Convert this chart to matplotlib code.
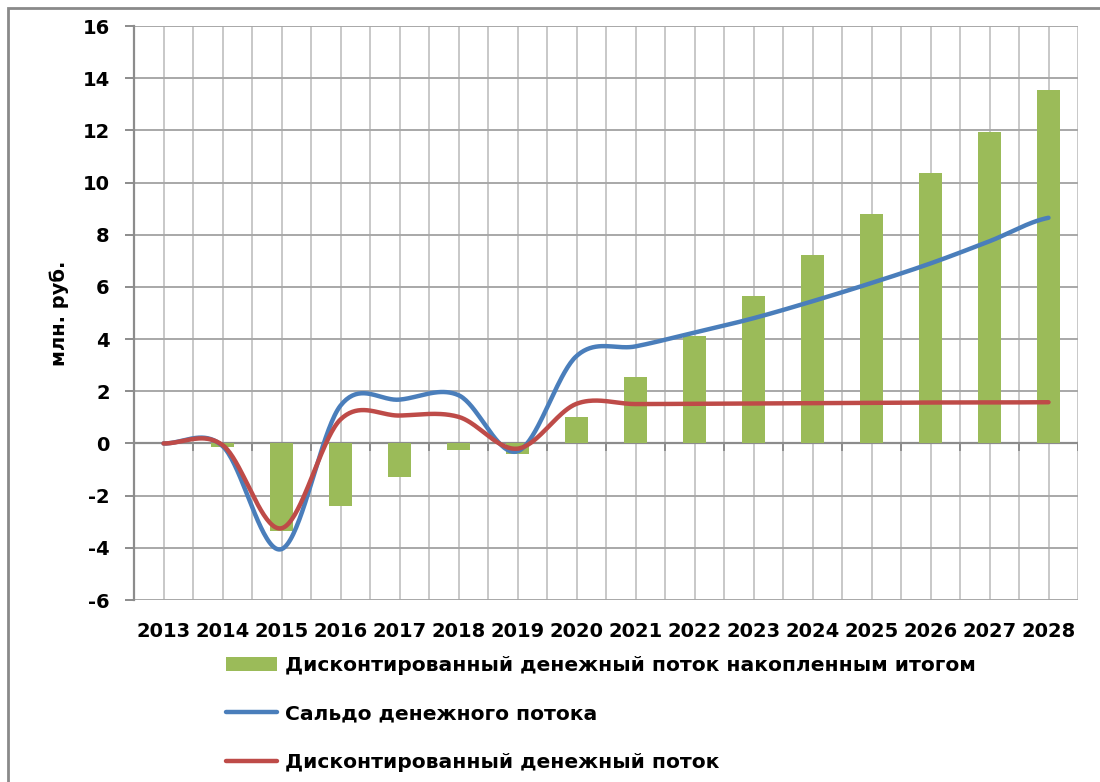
import numpy as np
import matplotlib
matplotlib.use("Agg")
import matplotlib.pyplot as plt
from matplotlib.patches import Rectangle, Patch
from matplotlib.lines import Line2D

plt.rcParams['font.family'] = ['DejaVu Sans']

years = ['2013', '2014', '2015', '2016', '2017', '2018', '2019', '2020',
         '2021', '2022', '2023', '2024', '2025', '2026', '2027', '2028']
cumulative_dcf = [0.0, -0.12, -3.37, -2.39, -1.30, -0.27, -0.42, 1.03,
                  2.56, 4.10, 5.65, 7.22, 8.79, 10.38, 11.94, 13.53]
cash_balance = [0.0, -0.10, -4.05, 1.45, 1.68, 1.85, -0.30, 3.35,
                3.72, 4.25, 4.80, 5.45, 6.15, 6.90, 7.75, 8.65]
dcf = [0.0, -0.06, -3.25, 0.92, 1.07, 1.02, -0.20, 1.52,
       1.51, 1.52, 1.53, 1.55, 1.56, 1.57, 1.57, 1.58]

label_bars = 'Дисконтированный денежный поток накопленным итогом'
label_blue = 'Сальдо денежного потока'
label_red = 'Дисконтированный денежный поток'
ylabel = 'млн. руб.'

GREEN = '#9BBB59'
BLUE = '#4A7EBB'
RED = '#BE4B48'


def smooth(xs, ys, n=40):
    """Bezier smoothing through the points, similar to Excel's smoothed line."""
    xs = np.asarray(xs, float)
    ys = np.asarray(ys, float)
    px = np.concatenate([[2 * xs[0] - xs[1]], xs, [2 * xs[-1] - xs[-2]]])
    py = np.concatenate([[ys[0]], ys, [ys[-1]]])
    outx, outy = [], []
    for i in range(1, len(px) - 2):
        p0x, p1x, p2x, p3x = px[i - 1], px[i], px[i + 1], px[i + 2]
        p0y, p1y, p2y, p3y = py[i - 1], py[i], py[i + 1], py[i + 2]
        c1x = p1x + (p2x - p0x) / 6
        c1y = p1y + (p2y - p0y) / 6
        c2x = p2x - (p3x - p1x) / 6
        c2y = p2y - (p3y - p1y) / 6
        t = np.linspace(0, 1, n, endpoint=(i == len(px) - 3))
        bx = (1 - t) ** 3 * p1x + 3 * (1 - t) ** 2 * t * c1x + 3 * (1 - t) * t ** 2 * c2x + t ** 3 * p2x
        by = (1 - t) ** 3 * p1y + 3 * (1 - t) ** 2 * t * c1y + 3 * (1 - t) * t ** 2 * c2y + t ** 3 * p2y
        outx.append(bx)
        outy.append(by)
    return np.concatenate(outx), np.concatenate(outy)


fig = plt.figure(figsize=(11, 7.82), dpi=100)
ax = fig.add_axes([134 / 1100, 1 - 600 / 782, (1078 - 134) / 1100, (600 - 26) / 782])

x = np.arange(len(years))
ax.set_xlim(-0.5, len(years) - 0.5)
ax.set_ylim(-6, 16)

# grid
for gx in np.arange(-0.5, len(years), 0.5):
    ax.axvline(gx, color='#c8c8c8', lw=1.4, zorder=0)
for gy in np.arange(-6, 17, 2):
    ax.axhline(gy, color='#a8a8a8', lw=1.4, zorder=0)
ax.axhline(0, color='#8c8c8c', lw=1.6, zorder=1)
# ticks on the zero axis at category boundaries
for bx_ in np.arange(-0.5, len(years), 1.0):
    ax.plot([bx_, bx_], [0, -0.25], color='#8c8c8c', lw=1.4, zorder=1)

ax.bar(x, cumulative_dcf, width=0.39, color=GREEN, zorder=2, label=label_bars)
sx, sy = smooth(x, cash_balance)
ax.plot(sx, sy, color=BLUE, lw=3.2, solid_capstyle='round', zorder=3, label=label_blue)
sx, sy = smooth(x, dcf)
ax.plot(sx, sy, color=RED, lw=3.2, solid_capstyle='round', zorder=4, label=label_red)

for s in ['top', 'right', 'bottom']:
    ax.spines[s].set_visible(False)
ax.spines['left'].set_color('#8c8c8c')
ax.spines['left'].set_linewidth(1.6)

ax.set_yticks(np.arange(-6, 17, 2))
ax.set_yticklabels([str(v) for v in range(-6, 17, 2)], fontsize=14, fontweight='bold')
ax.tick_params(axis='y', length=6.5, width=1.4, color='#8c8c8c', pad=11)
ax.set_xticks(x)
ax.set_xticklabels(years, fontsize=14, fontweight='bold')
ax.tick_params(axis='x', length=0, pad=16)
ax.set_ylabel(ylabel, fontsize=14, fontweight='bold', labelpad=10)

handles = [Patch(facecolor=GREEN, edgecolor='none'),
           Line2D([], [], color=BLUE, lw=3.2, solid_capstyle='round'),
           Line2D([], [], color=RED, lw=3.2, solid_capstyle='round')]
leg = fig.legend(handles, [label_bars, label_blue, label_red],
                 loc='upper left', bbox_to_anchor=(216 / 1100, 1 - 646 / 782),
                 frameon=False, prop={'size': 14.6, 'weight': 'bold'},
                 handlelength=2.5, handleheight=0.75, handletextpad=0.4,
                 labelspacing=1.45, borderpad=0)

# outer chart border
fig.add_artist(Rectangle((8 / 1100, -0.1), 1.2, 1 - 8 / 782 + 0.1,
                         transform=fig.transFigure, fill=False,
                         edgecolor='#8a8a8a', lw=2))

fig.savefig('out.png', dpi=100)
